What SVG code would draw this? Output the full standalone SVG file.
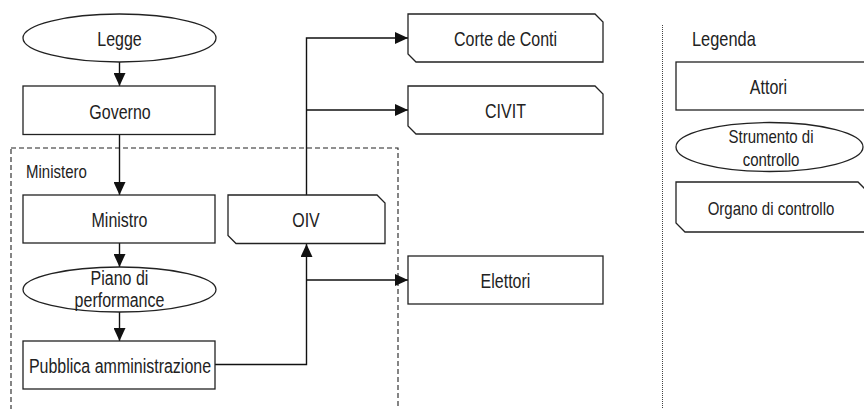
<svg xmlns="http://www.w3.org/2000/svg" width="864" height="409" viewBox="0 0 864 409">
<style>
text{font-family:"Liberation Sans",Arial,sans-serif;fill:#222;text-anchor:middle}
.m{font-size:19.5px}
.s{font-size:18.3px}
.st{text-anchor:start}
.box{fill:#fff;stroke:#222;stroke-width:1.3}
.con{fill:none;stroke:#111;stroke-width:1.4}
</style>
<defs>
<marker id="ah" markerUnits="userSpaceOnUse" markerWidth="13" markerHeight="12" refX="13" refY="6" orient="auto">
<path d="M0,0 L13,6 L0,12 z" fill="#111"/>
</marker>
</defs>
<rect width="864" height="409" fill="#fff"/>
<g id="ministero-group">
<rect x="11" y="148" width="387" height="280" fill="none" stroke="#222" stroke-width="1.1" stroke-dasharray="5,3"/>
<text class="s st" transform="translate(26,178) scale(0.82,1)">Ministero</text>
</g>
<g id="legend-divider">
<line x1="662.5" y1="25" x2="662.5" y2="409" stroke="#444" stroke-width="1" stroke-dasharray="1,1"/>
</g>
<g id="connectors">
<path class="con" d="M119.5,62 V86" marker-end="url(#ah)"/>
<path class="con" d="M119.5,135 V195" marker-end="url(#ah)"/>
<path class="con" d="M119.5,243 V267" marker-end="url(#ah)"/>
<path class="con" d="M119.5,312 V341" marker-end="url(#ah)"/>
<path class="con" d="M215,364.5 H306.5 V244" marker-end="url(#ah)"/>
<path class="con" d="M306.5,280 H408" marker-end="url(#ah)"/>
<path class="con" d="M306.5,195 V38 H408" marker-end="url(#ah)"/>
<path class="con" d="M306.5,110 H408" marker-end="url(#ah)"/>
</g>
<g id="legge">
<ellipse class="box" cx="119.5" cy="38" rx="96.5" ry="24"/>
<text class="m" transform="translate(119.5,46) scale(0.82,1)">Legge</text>
</g>
<g id="governo">
<rect class="box" x="23" y="86" width="192" height="48.5"/>
<text class="m" transform="translate(120,118.5) scale(0.82,1)">Governo</text>
</g>
<g id="ministro">
<rect class="box" x="23" y="195" width="192" height="48"/>
<text class="m" transform="translate(119.5,227) scale(0.82,1)">Ministro</text>
</g>
<g id="piano">
<ellipse class="box" cx="119.5" cy="289.5" rx="96.5" ry="22.5"/>
<text class="m" transform="translate(119.5,285) scale(0.82,1)">Piano di</text>
<text class="m" transform="translate(119.5,306.5) scale(0.82,1)">performance</text>
</g>
<g id="pubblica">
<rect class="box" x="23" y="341" width="192" height="48"/>
<text class="m" transform="translate(120,372.5) scale(0.82,1)">Pubblica amministrazione</text>
</g>
<g id="oiv">
<path class="box" d="M228,195 H377 L385,203 V243.5 H236 L228,235.5 Z"/>
<text class="m" transform="translate(306,227) scale(0.82,1)">OIV</text>
</g>
<g id="corte">
<path class="box" d="M408,14 H595 L603,22 V62 H416 L408,54 Z"/>
<text class="m" transform="translate(505.5,46) scale(0.82,1)">Corte de Conti</text>
</g>
<g id="civit">
<path class="box" d="M408,86 H595 L603,94 V134 H416 L408,126 Z"/>
<text class="m" transform="translate(505.5,117.5) scale(0.82,1)">CIVIT</text>
</g>
<g id="elettori">
<rect class="box" x="408" y="256" width="195" height="48"/>
<text class="m" transform="translate(505.5,287.5) scale(0.82,1)">Elettori</text>
</g>
<g id="legenda">
<text class="st" transform="translate(692,46) scale(0.82,1)" style="font-size:20px">Legenda</text>
</g>
<g id="leg-attori">
<rect class="box" x="676" y="62" width="192" height="48"/>
<text class="m" transform="translate(768.5,94) scale(0.82,1)">Attori</text>
</g>
<g id="leg-strumento">
<ellipse class="box" cx="769.5" cy="147" rx="93.5" ry="24.5"/>
<text class="s" transform="translate(771,143) scale(0.82,1)">Strumento di</text>
<text class="s" transform="translate(771,165.5) scale(0.82,1)">controllo</text>
</g>
<g id="leg-organo">
<path class="box" d="M676,182 H858 L866,190 V232 H685 L676,223 Z"/>
<text class="s" transform="translate(771,215) scale(0.82,1)">Organo di controllo</text>
</g>
</svg>
